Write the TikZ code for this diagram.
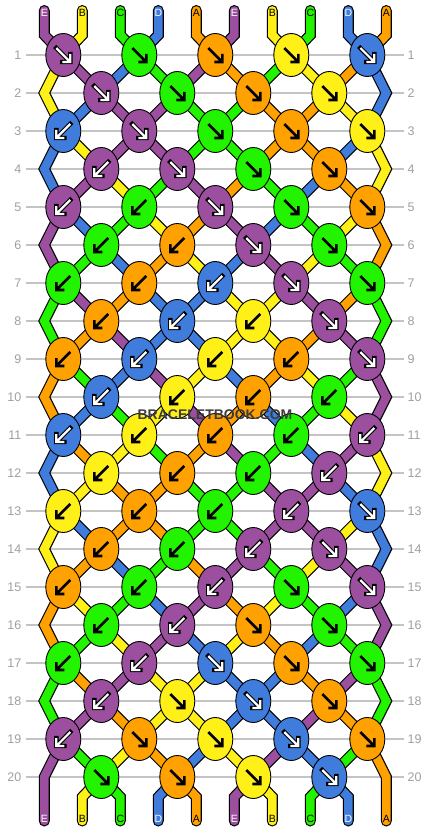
\documentclass[tikz,border=0pt]{standalone}
\usepackage{fontspec}
\setmainfont{Liberation Sans}
\usetikzlibrary{shapes.geometric}
\definecolor{cP}{RGB}{155,79,158}
\definecolor{cY}{RGB}{255,241,24}
\definecolor{cG}{RGB}{34,244,0}
\definecolor{cB}{RGB}{63,124,220}
\definecolor{cO}{RGB}{255,161,0}
\definecolor{linegray}{RGB}{196,196,196}
\definecolor{numgray}{RGB}{160,160,160}
\definecolor{wmgray}{RGB}{60,60,60}
\pgfdeclarelayer{back}
\pgfdeclarelayer{mid}
\pgfsetlayers{back,mid,main}
\newcommand\strcolor[1]{\ifcase#1 cP\or cY\or cG\or cB\or cO\or cP\or cY\or cG\or cB\or cO\fi}
\newcommand\strdark[1]{\ifcase#1 1\or 0\or 0\or 1\or 0\or 1\or 0\or 0\or 1\or 0\fi}
\tikzset{
  knot/.style={ellipse, draw=black, line width=0.9pt, minimum width=35pt, minimum height=43pt, inner sep=0pt},
  strout/.style={line width=11pt, draw=black, line cap=round, line join=miter},
  strin/.style={line width=8.6pt, line cap=round, line join=miter},
  rowline/.style={draw=linegray, line width=1.2pt},
  rownum/.style={text=numgray, font=\fontsize{12.5}{14}\selectfont, inner sep=0pt},
  strlab/.style={font=\fontsize{10.5}{12}\selectfont, inner sep=0pt},
  arrout/.style={draw=black, line width=4.4pt, line join=miter, line cap=rect},
  arrwhite/.style={draw=white, line width=2.2pt, line join=miter, line cap=butt},
  arrblack/.style={draw=black, line width=2.6pt, line join=miter, line cap=butt},
}
\begin{document}
\begin{tikzpicture}[x=1pt,y=-1pt]
\useasboundingbox (0,0) rectangle (430,832);
\begin{pgfonlayer}{back}
  \fill[white] (0,0) rectangle (430,832);
  \foreach \rw in {1,...,20}{
    \pgfmathsetmacro\ry{55+38*(\rw-1)}
    \draw[rowline] (26,\ry) -- (404,\ry);
    \node[rownum,anchor=east] (nl\rw) at (21.5,\ry) {\rw};
    \node[rownum,anchor=west] (nr\rw) at (407.5,\ry) {\rw};
  }
\end{pgfonlayer}
% initial string order
\foreach \pp in {0,...,9}{\expandafter\xdef\csname sp\pp\endcsname{\pp}}
\foreach \i in {0,...,9}{
  \coordinate (top\i) at ({44.3+38*\i},10.5);
  \coordinate (kin\i) at ({44.3+38*\i},35);
}
% knots, row by row
\foreach \kl [count=\rw] in {{f,f,f,f,f},{f,f,f,f},{b,f,f,f,f},{b,f,f,f},{b,b,f,f,f},{b,b,f,f},{b,b,b,f,f},{b,b,b,f},{b,b,b,b,f},{b,b,b,b},{b,b,b,b,b},{b,b,b,b},{b,b,b,b,f},{b,b,b,f},{b,b,b,f,f},{b,b,f,f},{b,b,f,f,f},{b,f,f,f},{b,f,f,f,f},{f,f,f,f}}{
  \pgfmathsetmacro\ry{55+38*(\rw-1)}
  \pgfmathtruncatemacro\odd{mod(\rw,2)}
  \ifnum\odd=0
    \edef\el{\csname sp0\endcsname}\edef\er{\csname sp9\endcsname}
    \coordinate (s\el-\rw) at (44.3,\ry);
    \coordinate (s\er-\rw) at (386.3,\ry);
  \fi
  \foreach \kt [count=\kn] in \kl {
    \pgfmathtruncatemacro\pp{2*\kn-1-\odd}
    \pgfmathtruncatemacro\qq{\pp+1}
    \edef\lstr{\csname sp\pp\endcsname}
    \edef\rstr{\csname sp\qq\endcsname}
    \if f\kt \edef\kid{\lstr}\def\sg{1}\else\edef\kid{\rstr}\def\sg{-1}\fi
    \edef\kc{\strcolor{\kid}}
    \edef\dk{\strdark{\kid}}
    \pgfmathsetmacro\cx{44.3+38*(\pp+0.5)}
    \node[knot,fill=\kc] (k\rw-\kn) at (\cx,\ry) {};
    \coordinate (s\lstr-\rw) at (k\rw-\kn.center);
    \coordinate (s\rstr-\rw) at (k\rw-\kn.center);
    \ifnum\dk=1
      \draw[arrout] ({\cx-7*(\sg)},{\ry-7}) -- ({\cx+6*(\sg)},{\ry+6})
        ({\cx+7*(\sg)},{\ry-1}) -- ({\cx+7*(\sg)},{\ry+7}) -- ({\cx-1*(\sg)},{\ry+7});
      \draw[arrwhite] ({\cx-7*(\sg)},{\ry-7}) -- ({\cx+6*(\sg)},{\ry+6})
        ({\cx+7*(\sg)},{\ry-1}) -- ({\cx+7*(\sg)},{\ry+7}) -- ({\cx-1*(\sg)},{\ry+7});
    \else
      \draw[arrblack] ({\cx-7*(\sg)},{\ry-7}) -- ({\cx+6*(\sg)},{\ry+6})
        ({\cx+7*(\sg)},{\ry-1}) -- ({\cx+7*(\sg)},{\ry+7}) -- ({\cx-1*(\sg)},{\ry+7});
    \fi
    \expandafter\xdef\csname sp\pp\endcsname{\rstr}
    \expandafter\xdef\csname sp\qq\endcsname{\lstr}
  }
}
% bottom ends
\foreach \pp in {0,...,9}{
  \edef\sid{\csname sp\pp\endcsname}
  \coordinate (s\sid-bk) at ({44.3+38*\pp},797);
  \coordinate (s\sid-end) at ({44.3+38*\pp},821);
}
% strings
\begin{pgfonlayer}{mid}
\foreach \i in {0,...,9}{
  \edef\scol{\strcolor{\i}}
  \draw[strout] (top\i) -- (kin\i) \foreach \rw in {1,...,20}{ -- (s\i-\rw)} -- (s\i-bk) -- (s\i-end);
  \draw[strin,draw=\scol] (top\i) -- (kin\i) \foreach \rw in {1,...,20}{ -- (s\i-\rw)} -- (s\i-bk) -- (s\i-end);
}
\end{pgfonlayer}
% string letters
\foreach \i/\lab/\tc in {0/E/white,1/B/black,2/C/black,3/D/white,4/A/black,5/E/white,6/B/black,7/C/black,8/D/white,9/A/black}{
  \node[strlab,text=\tc] (tl\i) at ({44.3+38*\i},12.7) {\lab};
  \node[strlab,text=\tc] (bl\i) at ({44.3+38*\i},819) {\lab};
}
\node[font=\bfseries\fontsize{14}{16}\selectfont, text=wmgray, inner sep=0pt] (wm) at (215,415) {BRACELETBOOK.COM};
\end{tikzpicture}
\end{document}
